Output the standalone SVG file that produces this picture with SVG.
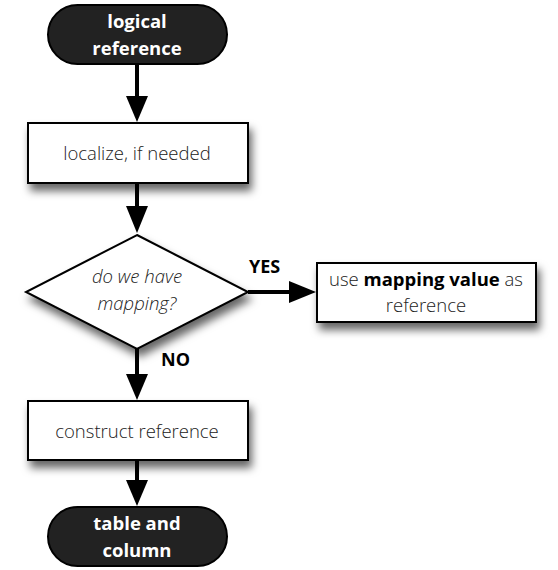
<svg xmlns="http://www.w3.org/2000/svg" width="558" height="570" viewBox="0 0 558 570">
<style>
.term{fill:#222;stroke:#000;stroke-width:2}
.box{fill:#fff;stroke:#000;stroke-width:2}
.tt{font-family:"Open Sans","DejaVu Sans",sans-serif;font-weight:700;font-size:18.5px;fill:#fff;text-anchor:middle}
.bt{font-family:"Open Sans","DejaVu Sans",sans-serif;font-weight:300;font-size:18.5px;fill:#222;text-anchor:middle}
.lb{font-family:"Open Sans","DejaVu Sans",sans-serif;font-weight:700;font-size:18px;fill:#000}
.ln{stroke:#000;stroke-width:4;fill:none}
</style>
<defs>
<filter id="sh" x="-20%" y="-20%" width="150%" height="170%">
<feDropShadow dx="3" dy="7" stdDeviation="4" flood-color="#000" flood-opacity="0.6"/>
</filter>
</defs>
<g id="connectors">
<line class="ln" x1="137" y1="64" x2="137" y2="98"/>
<polygon points="126,96 148,96 137,122"/>
<line class="ln" x1="137" y1="183" x2="137" y2="208"/>
<polygon points="126,206 148,206 137,233"/>
<line class="ln" x1="248" y1="292" x2="292" y2="292"/>
<polygon points="289,281 289,303 316,292"/>
<line class="ln" x1="137" y1="349" x2="137" y2="376"/>
<polygon points="126,374 148,374 137,400"/>
<line class="ln" x1="137" y1="460" x2="137" y2="482"/>
<polygon points="126,480 148,480 137,506"/>
<text class="lb" x="249" y="273">YES</text>
<text class="lb" x="161" y="366">NO</text>
</g>
<g id="start">
<rect class="term" x="48" y="5" width="179" height="59" rx="29.5"/>
<text class="tt" x="137" y="28">logical</text>
<text class="tt" x="137" y="55">reference</text>
</g>
<g id="localize">
<rect class="box" x="28" y="123" width="220" height="60" filter="url(#sh)"/>
<text class="bt" x="137" y="160">localize, if needed</text>
</g>
<g id="decision">
<polygon class="box" points="137,235 248,292 137,349 26,292" filter="url(#sh)"/>
<text class="bt" x="137" y="283" font-style="italic">do we have</text>
<text class="bt" x="137" y="310" font-style="italic">mapping?</text>
</g>
<g id="mapping">
<rect class="box" x="317" y="263" width="219" height="59" filter="url(#sh)"/>
<text class="bt" x="426" y="286">use <tspan font-weight="700" fill="#000">mapping value</tspan> as</text>
<text class="bt" x="426" y="312">reference</text>
</g>
<g id="construct">
<rect class="box" x="28" y="401" width="220" height="59" filter="url(#sh)"/>
<text class="bt" x="137" y="438">construct reference</text>
</g>
<g id="end">
<rect class="term" x="48" y="507" width="179" height="59" rx="29.5"/>
<text class="tt" x="137" y="530">table and</text>
<text class="tt" x="137" y="557">column</text>
</g>
</svg>
